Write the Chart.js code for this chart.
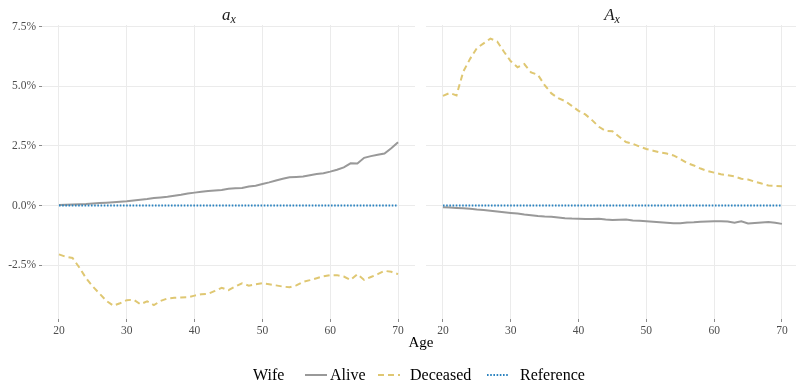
<!DOCTYPE html>
<html>
<head>
<meta charset="utf-8">
<script src="https://cdn.jsdelivr.net/npm/chart.js@4.4.1/dist/chart.umd.min.js"></script>
<style>
    html, body { margin: 0; padding: 0; background: #ffffff; }
    body { width: 796px; height: 380px; position: relative; overflow: hidden; font-family: "Liberation Serif", serif; }
    .panel { position: absolute; top: 0; }
    .strip { position: absolute; top: 5px; font-size: 17px; line-height: normal; color: #1a1a1a; font-style: italic; text-align: center; width: 200px; }
    .strip .sub { font-size: 12px; position: relative; top: 3px; }
    #age-title { position: absolute; left: 321px; width: 200px; text-align: center; top: 334px; font-size: 15px; color: #000; }
    #legend { position: absolute; top: 366px; left: 0; width: 796px; height: 18px; font-size: 16px; color: #000; white-space: nowrap; }
    #legend span, #legend canvas { position: absolute; }
    #legend canvas { top: 7px; }
</style>
</head>
<body>
<div class="panel" style="left:0px;width:415px;height:340px;"><canvas id="chart-ax"></canvas></div>
<div class="panel" style="left:426px;width:370px;height:340px;"><canvas id="chart-Ax"></canvas></div>
<div class="strip" style="left:129px;"><span>a</span><span class="sub">x</span></div>
<div class="strip" style="left:512px;"><span>A</span><span class="sub">x</span></div>
<div id="age-title">Age</div>
<div id="legend"></div>

<script>
// Datos (edad 20..70, valores en %)
const ages = [20, 21, 22, 23, 24, 25, 26, 27, 28, 29, 30, 31, 32, 33, 34, 35, 36, 37, 38, 39, 40,
    41, 42, 43, 44, 45, 46, 47, 48, 49, 50, 51, 52, 53, 54, 55, 56, 57, 58, 59, 60,
    61, 62, 63, 64, 65, 66, 67, 68, 69, 70];

const seriesNames = ["Alive", "Deceased", "Reference"];
const legendTitle = "Wife";
const xTicks = [20, 30, 40, 50, 60, 70];
const yTicks = [-2.5, 0, 2.5, 5, 7.5];
const yTickLabels = ["-2.5%", "0.0%", "2.5%", "5.0%", "7.5%"];

// panel a_x
const axAlive = [0.02, 0.03, 0.04, 0.05, 0.06, 0.08, 0.10, 0.12, 0.14, 0.16, 0.18,
    0.21, 0.24, 0.27, 0.31, 0.34, 0.37, 0.41, 0.45, 0.50, 0.54,
    0.58, 0.61, 0.63, 0.65, 0.70, 0.72, 0.73, 0.80, 0.83, 0.90,
    0.97, 1.05, 1.12, 1.18, 1.20, 1.22, 1.27, 1.32, 1.35, 1.42,
    1.50, 1.60, 1.77, 1.76, 2.00, 2.07, 2.13, 2.18, 2.40, 2.65];
const axDeceased = [-2.05, -2.15, -2.20, -2.60, -3.05, -3.40, -3.70, -4.00, -4.20, -4.10, -3.97,
    -3.95, -4.14, -4.02, -4.18, -4.00, -3.90, -3.87, -3.86, -3.85, -3.78,
    -3.72, -3.70, -3.58, -3.45, -3.55, -3.40, -3.26, -3.36, -3.30, -3.26,
    -3.30, -3.35, -3.40, -3.43, -3.35, -3.20, -3.13, -3.05, -2.97, -2.92,
    -2.92, -2.98, -3.12, -2.88, -3.12, -3.00, -2.88, -2.74, -2.78, -2.88];

// panel A_x
const AxAlive = [-0.07, -0.08, -0.10, -0.12, -0.14, -0.17, -0.19, -0.22, -0.25, -0.28, -0.31,
    -0.34, -0.38, -0.41, -0.44, -0.46, -0.47, -0.50, -0.53, -0.55, -0.56,
    -0.57, -0.57, -0.56, -0.59, -0.61, -0.60, -0.59, -0.63, -0.64, -0.66,
    -0.68, -0.70, -0.72, -0.74, -0.74, -0.71, -0.70, -0.68, -0.67, -0.66,
    -0.66, -0.67, -0.72, -0.66, -0.75, -0.73, -0.71, -0.69, -0.72, -0.77];
const AxDeceased = [4.60, 4.72, 4.62, 5.62, 6.15, 6.60, 6.80, 7.00, 6.88, 6.45, 6.05,
    5.80, 5.93, 5.58, 5.48, 5.05, 4.70, 4.50, 4.38, 4.18, 3.97,
    3.82, 3.58, 3.30, 3.13, 3.11, 2.88, 2.66, 2.59, 2.47, 2.37,
    2.30, 2.23, 2.18, 2.10, 1.95, 1.78, 1.68, 1.55, 1.45, 1.38,
    1.31, 1.27, 1.22, 1.12, 1.09, 1.00, 0.92, 0.84, 0.82, 0.81];

const reference = [0, 0, 0, 0, 0, 0, 0, 0, 0, 0, 0, 0, 0, 0, 0, 0, 0, 0, 0, 0, 0,
    0, 0, 0, 0, 0, 0, 0, 0, 0, 0, 0, 0, 0, 0, 0, 0, 0, 0, 0, 0,
    0, 0, 0, 0, 0, 0, 0, 0, 0, 0];

(function () {
    "use strict";

    const FONT = "'Liberation Serif', 'DejaVu Serif', serif";
    Chart.defaults.font.family = FONT;
    Chart.defaults.animation = false;

    const COLORS = ["#999999", "#dfc772", "#2b83c0"];
    const DASHES = [[], [6, 4], [1.6, 1.6]];
    const WIDTHS = [2, 2, 1.8];
    const Y_MIN = -4.76, Y_MAX = 7.57;

    function toPoints(values) {
        return ages.map((a, i) => ({ x: a, y: values[i] }));
    }

    function makeDatasets(alive, deceased) {
        return [alive, deceased, reference].map((vals, i) => ({
            label: seriesNames[i],
            data: toPoints(vals),
            borderColor: COLORS[i],
            borderWidth: WIDTHS[i],
            borderDash: DASHES[i],
            borderCapStyle: "butt",
            pointRadius: 0,
            tension: 0,
            fill: false,
            order: 3 - i
        }));
    }

    function makeChart(id, alive, deceased, showY, xMax) {
        const ctx = document.getElementById(id).getContext("2d");
        return new Chart(ctx, {
            type: "line",
            data: { datasets: makeDatasets(alive, deceased) },
            options: {
                responsive: true,
                maintainAspectRatio: false,
                layout: { padding: { top: 25, left: 0, right: 0, bottom: 0 } },
                plugins: { legend: { display: false }, tooltip: { enabled: false } },
                scales: {
                    x: {
                        type: "linear",
                        min: 17.5,
                        max: xMax,
                        afterBuildTicks: function (axis) {
                            axis.ticks = xTicks.map(v => ({ value: v }));
                        },
                        afterFit: function (axis) { axis.height = 21; },
                        border: { display: false },
                        grid: { color: "#ebebeb", lineWidth: 1, tickLength: 3, tickColor: "#8a8a8a" },
                        ticks: { color: "#4d4d4d", font: { size: 11.5 }, padding: 2, maxRotation: 0 }
                    },
                    y: {
                        type: "linear",
                        min: Y_MIN,
                        max: Y_MAX,
                        afterBuildTicks: function (axis) {
                            axis.ticks = yTicks.map(v => ({ value: v }));
                        },
                        afterFit: function (axis) { axis.width = showY ? 42 : 0; },
                        border: { display: false },
                        grid: { color: "#ebebeb", lineWidth: 1, drawTicks: showY, tickLength: 3, tickColor: "#8a8a8a" },
                        ticks: {
                            display: showY,
                            color: "#4d4d4d",
                            font: { size: 11.5 },
                            padding: 3,
                            callback: function (value) {
                                const k = yTicks.indexOf(value);
                                return k >= 0 ? yTickLabels[k] : "";
                            }
                        }
                    }
                }
            }
        });
    }

    // leyenda: posiciones horizontales de cada clave y etiqueta
    function buildLegend() {
        const box = document.getElementById("legend");
        const keyX = [305, 378, 487];
        const labelX = [330, 410, 520];
        const title = document.createElement("span");
        title.textContent = legendTitle;
        title.style.left = "253px";
        box.appendChild(title);
        seriesNames.forEach((name, i) => {
            const key = document.createElement("canvas");
            key.width = 22; key.height = 4;
            key.style.left = keyX[i] + "px";
            const k = key.getContext("2d");
            k.strokeStyle = COLORS[i];
            k.lineWidth = WIDTHS[i];
            k.setLineDash(DASHES[i]);
            k.beginPath(); k.moveTo(0, 2); k.lineTo(22, 2); k.stroke();
            const label = document.createElement("span");
            label.textContent = name;
            label.style.left = labelX[i] + "px";
            box.appendChild(key);
            box.appendChild(label);
        });
    }

    makeChart("chart-ax", axAlive, axDeceased, true, 72.5);
    makeChart("chart-Ax", AxAlive, AxDeceased, false, 17.5 + 370 / 6.78);
    buildLegend();
})();
</script>
</body>
</html>
